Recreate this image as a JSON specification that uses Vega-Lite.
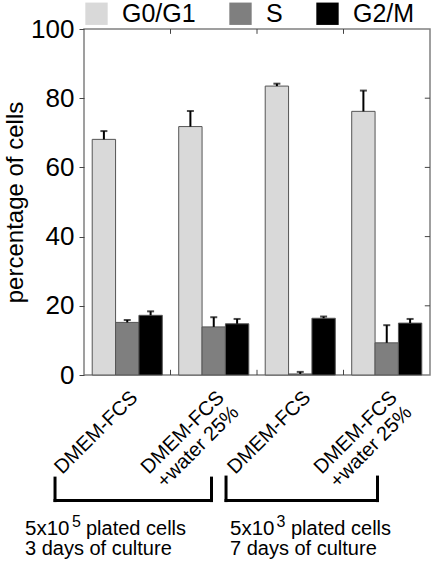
{
  "$schema": "https://vega.github.io/schema/vega-lite/v6.json",
  "width": 346,
  "height": 346,
  "autosize": {"type": "none"},
  "padding": {"left": 84, "top": 29, "right": 2, "bottom": 186},
  "background": "white",
  "config": {
    "font": "Liberation Sans",
    "view": {"stroke": "#808080", "strokeWidth": 1.5}
  },
  "datasets": {
    "bars": [
      {"culture": "A", "phase": "G0/G1", "value": 68.1, "upper": 70.5},
      {"culture": "A", "phase": "S", "value": 15.2, "upper": 15.9},
      {"culture": "A", "phase": "G2/M", "value": 17.25, "upper": 18.4},
      {"culture": "B", "phase": "G0/G1", "value": 71.8, "upper": 76.3},
      {"culture": "B", "phase": "S", "value": 13.9, "upper": 16.7},
      {"culture": "B", "phase": "G2/M", "value": 14.8, "upper": 16.2},
      {"culture": "C", "phase": "G0/G1", "value": 83.5, "upper": 84.2},
      {"culture": "C", "phase": "S", "value": 0.3, "upper": 0.9},
      {"culture": "C", "phase": "G2/M", "value": 16.4, "upper": 16.9},
      {"culture": "D", "phase": "G0/G1", "value": 76.2, "upper": 82.2},
      {"culture": "D", "phase": "S", "value": 9.3, "upper": 14.4},
      {"culture": "D", "phase": "G2/M", "value": 15.0, "upper": 16.2}
    ],
    "brackets": [
      {"x": -0.335, "x2": -0.335, "y": -29.8, "y2": -36.3},
      {"x": -0.335, "x2": 1.474, "y": -36.3, "y2": -36.3},
      {"x": 1.474, "x2": 1.474, "y": -29.8, "y2": -36.3},
      {"x": 1.642, "x2": 1.642, "y": -29.5, "y2": -36.3},
      {"x": 1.642, "x2": 3.393, "y": -36.3, "y2": -36.3},
      {"x": 3.393, "x2": 3.393, "y": -29.5, "y2": -36.3}
    ],
    "frameTicks": [
      {"x": 1, "x2": 1, "y": 100, "y2": 98.6},
      {"x": 2, "x2": 2, "y": 100, "y2": 98.6},
      {"x": 3, "x2": 3, "y": 100, "y2": 98.6},
      {"x": 1, "x2": 1, "y": 0, "y2": 1.5},
      {"x": 2, "x2": 2, "y": 0, "y2": 1.5},
      {"x": 3, "x2": 3, "y": 0, "y2": 1.5},
      {"x": 4, "x2": 3.94, "y": 20, "y2": 20},
      {"x": 4, "x2": 3.94, "y": 40, "y2": 40},
      {"x": 4, "x2": 3.94, "y": 60, "y2": 60},
      {"x": 4, "x2": 3.94, "y": 80, "y2": 80}
    ],
    "bases": [
      {"x": -0.682, "y": -46.1, "text": "5x10"},
      {"x": 1.688, "y": -46.1, "text": "5x10"}
    ],
    "notes": [
      {"x": 0.023, "y": -46.1, "text": "plated cells"},
      {"x": -0.682, "y": -52.1, "text": "3 days of culture"},
      {"x": 2.393, "y": -46.1, "text": "plated cells"},
      {"x": 1.688, "y": -52.1, "text": "7 days of culture"}
    ],
    "sups": [
      {"x": -0.139, "y": -43.9, "text": "5"},
      {"x": 2.225, "y": -43.9, "text": "3"}
    ]
  },
  "layer": [
    {
      "data": {"name": "bars"},
      "encoding": {
        "x": {
          "field": "culture",
          "type": "nominal",
          "sort": ["A", "B", "C", "D"],
          "scale": {"paddingInner": 0.19, "paddingOuter": 0.095},
          "axis": {
            "title": null,
            "labelAngle": -45,
            "labelFontSize": 20,
            "labelColor": "black",
            "labelLineHeight": 21,
            "labelExpr": "(datum.value == 'B' || datum.value == 'D') ? ['DMEM-FCS', '+water 25%'] : 'DMEM-FCS'",
            "ticks": false,
            "domain": false,
            "labelPadding": 12
          }
        },
        "xOffset": {
          "field": "phase",
          "type": "nominal",
          "sort": ["G0/G1", "S", "G2/M"],
          "scale": {"paddingInner": 0, "paddingOuter": 0}
        },
        "y": {
          "field": "value",
          "type": "quantitative",
          "scale": {"domain": [0, 100], "nice": false, "zero": false},
          "axis": {
            "title": "percentage of cells",
            "values": [0, 20, 40, 60, 80, 100],
            "grid": false,
            "domain": false,
            "tickSize": 5,
            "tickColor": "#444",
            "labelFontSize": 26,
            "labelColor": "black",
            "labelPadding": 5,
            "titleFontSize": 24,
            "titleFontWeight": "normal",
            "titleColor": "black",
            "titlePadding": 3
          }
        }
      },
      "layer": [
        {
          "mark": {"type": "bar", "stroke": "#555", "strokeWidth": 1},
          "encoding": {
            "color": {
              "field": "phase",
              "type": "nominal",
              "scale": {"domain": ["G0/G1", "S", "G2/M"], "range": ["#d9d9d9", "#7f7f7f", "#000000"]},
              "legend": {
                "orient": "top",
                "direction": "horizontal",
                "title": null,
                "symbolType": "square",
                "symbolSize": 500,
                "symbolStrokeWidth": 0,
                "symbolOpacity": 1,
                "labelFontSize": 25,
                "labelColor": "black",
                "labelOffset": 13,
                "columnPadding": 32,
                "offset": 2,
                "padding": 0
              }
            }
          }
        },
        {
          "mark": {"type": "rule", "color": "black", "strokeWidth": 2},
          "encoding": {"y2": {"field": "upper"}}
        },
        {
          "mark": {"type": "tick", "orient": "horizontal", "color": "black", "size": 7, "thickness": 2},
          "encoding": {"y": {"field": "upper", "type": "quantitative"}}
        }
      ]
    },
    {
      "encoding": {
        "x": {"type": "quantitative", "scale": {"domain": [0, 4], "nice": false, "zero": false}, "axis": null}
      },
      "layer": [
        {
          "data": {"name": "brackets"},
          "mark": {"type": "rule", "color": "black", "strokeWidth": 3, "strokeCap": "square"},
          "encoding": {
            "x": {"field": "x", "type": "quantitative"},
            "x2": {"field": "x2"},
            "y": {"field": "y", "type": "quantitative"},
            "y2": {"field": "y2"}
          }
        },
        {
          "data": {"name": "frameTicks"},
          "mark": {"type": "rule", "color": "#444", "strokeWidth": 1},
          "encoding": {
            "x": {"field": "x", "type": "quantitative"},
            "x2": {"field": "x2"},
            "y": {"field": "y", "type": "quantitative"},
            "y2": {"field": "y2"}
          }
        },
        {
          "data": {"name": "bases"},
          "mark": {"type": "text", "align": "left", "baseline": "alphabetic", "fontSize": 20.5, "color": "black"},
          "encoding": {
            "x": {"field": "x", "type": "quantitative"},
            "y": {"field": "y", "type": "quantitative"},
            "text": {"field": "text"}
          }
        },
        {
          "data": {"name": "notes"},
          "mark": {"type": "text", "align": "left", "baseline": "alphabetic", "fontSize": 20, "color": "black"},
          "encoding": {
            "x": {"field": "x", "type": "quantitative"},
            "y": {"field": "y", "type": "quantitative"},
            "text": {"field": "text"}
          }
        },
        {
          "data": {"name": "sups"},
          "mark": {"type": "text", "align": "left", "baseline": "alphabetic", "fontSize": 16, "color": "black"},
          "encoding": {
            "x": {"field": "x", "type": "quantitative"},
            "y": {"field": "y", "type": "quantitative"},
            "text": {"field": "text"}
          }
        }
      ]
    }
  ],
  "resolve": {"scale": {"x": "independent"}}
}
